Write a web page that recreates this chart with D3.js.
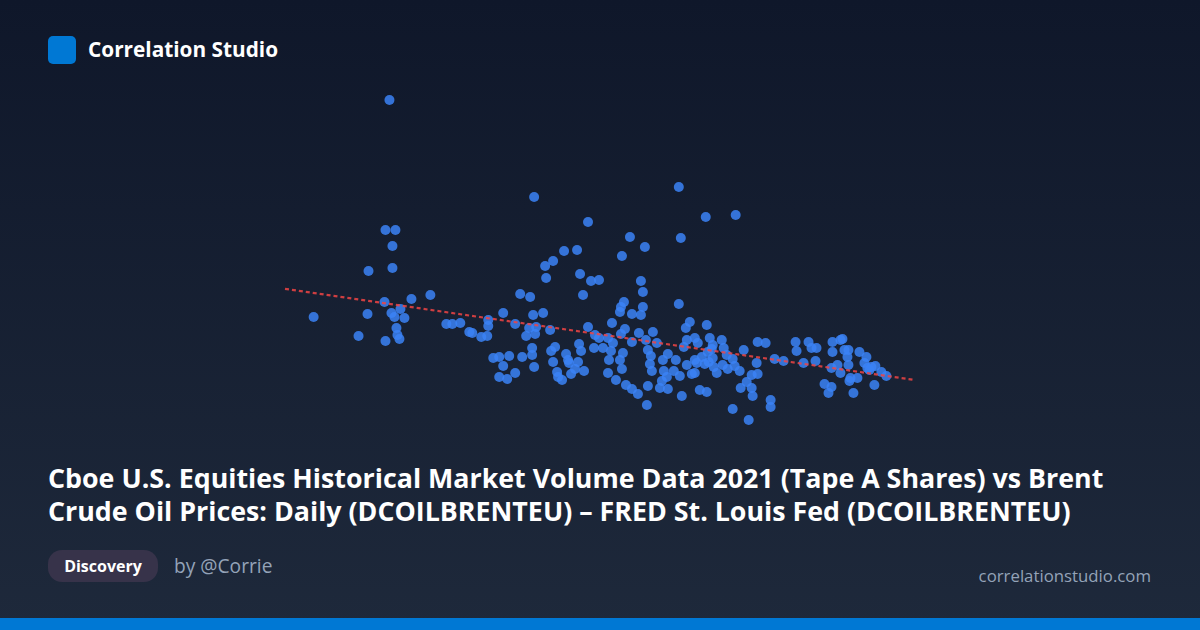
<!DOCTYPE html>
<html><head><meta charset="utf-8">
<script src="https://cdn.jsdelivr.net/npm/d3@7"></script>
<style>html,body{margin:0;padding:0;background:#0f172a;}svg{display:block;}</style>
</head><body>
<script>
// Daily Tape A volume (billions of shares) vs Brent crude (USD/bbl), 2021
const volume = [3.04,3.00,3.10,3.07,2.83,3.07,2.28,2.82,2.99,3.26,3.45,2.73,3.00,3.06,3.15,3.09,3.19,3.11,3.12,3.14,
3.61,3.67,3.75,3.84,3.87,3.96,4.02,4.03,4.03,4.08,4.14,4.24,4.18,4.14,4.22,4.30,4.18,4.35,4.45,4.61,
4.98,5.06,4.30,4.44,4.51,4.41,4.50,4.65,4.48,4.58,5.03,5.10,5.14,5.09,4.37,4.47,4.47,4.49,4.66,4.70,
4.68,4.81,4.83,4.84,4.94,4.96,4.93,4.72,4.73,4.77,4.86,4.90,4.99,4.49,5.94,6.21,6.51,5.03,5.96,5.45,
5.60,4.79,4.92,5.37,4.68,4.60,4.95,5.14,5.56,5.58,5.94,5.39,5.36,5.35,5.58,5.56,5.47,5.27,5.18,5.23,
5.28,5.26,5.38,5.35,5.24,5.23,5.31,5.37,5.40,5.36,5.47,5.54,5.68,5.61,5.72,5.63,5.66,5.65,5.67,5.78,
5.83,5.79,5.82,5.77,5.75,5.83,5.41,5.47,5.53,5.62,5.63,5.97,5.91,6.02,5.89,5.95,6.07,6.12,6.05,6.01,
6.02,5.99,6.10,6.13,6.22,6.25,6.37,6.28,6.10,6.17,6.23,6.27,6.20,6.28,6.29,6.32,6.10,6.24,6.39,6.42,
6.38,6.48,6.50,6.55,6.43,6.59,6.72,6.67,6.73,6.62,6.56,6.67,6.68,6.15,6.22,6.48,6.64,6.73,6.81,6.86,
6.86,6.90,6.99,7.11,7.12,7.19,7.24,7.27,7.32,7.31,7.40,7.44,7.47,7.48,7.56,7.58,7.48,7.47,7.53,7.56,
7.60,7.64,7.63,7.64,7.66,7.65,7.73,7.69,7.75,7.82,7.80,7.83,7.87,7.91,7.85,7.97,8.02,7.90];
const brent = [90.00,73.75,73.75,71.75,68.63,69.00,62.88,63.25,64.75,65.13,65.63,60.50,59.88,63.38,63.88,62.88,62.75,61.50,60.63,60.13,
62.00,62.00,62.13,61.00,60.88,60.38,60.50,62.50,61.75,57.75,57.88,58.00,56.75,55.38,55.13,55.88,63.38,65.75,65.38,67.75,
65.63,67.38,62.00,61.50,61.63,60.50,60.75,61.25,63.13,63.38,61.63,60.63,60.25,59.00,57.88,58.13,59.00,56.63,58.63,59.13,
57.25,58.25,57.50,57.13,59.50,58.63,57.25,56.00,55.38,55.00,55.75,56.38,56.13,77.88,79.13,75.38,75.63,74.75,72.75,72.88,
71.63,71.13,71.25,70.50,69.88,69.25,68.25,67.50,67.38,66.00,64.50,64.75,64.13,63.50,64.13,63.13,63.25,62.13,59.00,60.25,
59.63,58.63,58.38,57.50,57.50,55.88,55.00,56.38,61.38,60.75,59.75,60.88,61.00,60.00,59.63,58.75,58.00,57.00,56.13,57.50,
58.25,56.13,55.38,54.88,54.00,53.88,54.38,53.88,53.25,51.88,54.25,53.00,57.50,56.88,56.13,55.50,55.75,57.13,62.25,61.50,
60.00,59.13,60.25,59.63,61.88,60.25,60.00,59.38,57.50,57.88,58.50,58.88,57.00,57.75,56.63,55.88,55.88,57.25,59.00,58.13,
56.88,57.63,56.75,56.13,56.38,58.75,57.13,55.63,55.75,54.75,54.00,54.00,53.00,53.75,53.50,51.38,50.00,59.75,59.63,52.50,
51.63,57.63,57.38,59.75,58.63,57.13,59.75,59.00,59.00,57.38,54.50,53.38,54.13,59.75,60.00,60.13,58.50,56.50,56.88,55.88,
58.75,58.75,57.88,56.88,55.25,54.88,55.25,53.38,58.50,57.88,57.13,56.50,56.63,56.75,56.25,56.00,55.50,54.38];

const titleLines = ["Cboe U.S. Equities Historical Market Volume Data 2021 (Tape A Shares) vs Brent",
                    "Crude Oil Prices: Daily (DCOILBRENTEU) \u2013 FRED St. Louis Fed (DCOILBRENTEU)"];
const brand = "Correlation Studio";
const tag = "Discovery";
const author = "by @Corrie";
const site = "correlationstudio.com";

const W = 1200, H = 630;
const svg = d3.select("body").append("svg").attr("width", W).attr("height", H);
const defs = svg.append("defs");
const g = defs.append("linearGradient").attr("id","bg").attr("x1",0).attr("y1",0).attr("x2",0).attr("y2",1);
g.append("stop").attr("offset","0%").attr("stop-color","#0f172a");
g.append("stop").attr("offset","100%").attr("stop-color","#1e293b");
svg.append("rect").attr("width",W).attr("height",H).attr("fill","url(#bg)");

// header
svg.append("rect").attr("x",48).attr("y",36).attr("width",28).attr("height",28).attr("rx",5).attr("fill","#0078d4");
svg.append("text").attr("x",88).attr("y",57).attr("fill","#ffffff")
  .style("font-family","'Open Sans', sans-serif").style("font-weight",700).style("font-size","20.8px").text(brand);

// scatter
const data = volume.map((v,i)=>({x:v,y:brent[i]}));
const xExt = d3.extent(volume), yExt = d3.extent(brent);
const xPad = (xExt[1]-xExt[0])*0.05, yPad = (yExt[1]-yExt[0])*0.05;
const x = d3.scaleLinear().domain([xExt[0]-xPad, xExt[1]+xPad]).range([285, 915]);
const y = d3.scaleLinear().domain([yExt[0]-yPad, yExt[1]+yPad]).range([436, 84]);

const mx = d3.mean(volume), my = d3.mean(brent);
const slope = d3.sum(data, d=>(d.x-mx)*(d.y-my)) / d3.sum(data, d=>(d.x-mx)*(d.x-mx));
const icpt = my - slope*mx;
const xd = x.domain();

svg.append("g").selectAll("circle").data(data).join("circle")
  .attr("cx", d=>x(d.x)).attr("cy", d=>y(d.y)).attr("r", 5)
  .attr("fill", "#3b82f6").attr("fill-opacity", 0.85);

svg.append("line")
  .attr("x1", x(xd[0])).attr("y1", y(icpt+slope*xd[0]))
  .attr("x2", x(xd[1])).attr("y2", y(icpt+slope*xd[1]))
  .attr("stroke", "#ef4444").attr("stroke-opacity", 0.85).attr("stroke-width", 2.2)
  .attr("stroke-dasharray", "4,3");

// title
const t = svg.append("text").attr("fill","#ffffff")
  .style("font-family","'Open Sans', sans-serif").style("font-weight",700).style("font-size","26.8px");
titleLines.forEach((l,i)=>t.append("tspan").attr("x",48).attr("y",488+i*33).text(l));

// footer
svg.append("rect").attr("x",48).attr("y",550).attr("width",110).attr("height",32).attr("rx",14).attr("fill","#37334a");
svg.append("text").attr("x",103).attr("y",572).attr("text-anchor","middle").attr("fill","#ffffff")
  .style("font-family","'Open Sans', sans-serif").style("font-weight",700).style("font-size","16px").text(tag);
svg.append("text").attr("x",174).attr("y",573).attr("fill","#94a3b8")
  .style("font-family","'Open Sans', sans-serif").style("font-size","19.2px").text(author);
svg.append("text").attr("x",1151).attr("y",582).attr("text-anchor","end").attr("fill","#94a3b8")
  .style("font-family","'Open Sans', sans-serif").style("font-size","16.8px").text(site);
svg.append("rect").attr("x",0).attr("y",618).attr("width",W).attr("height",12).attr("fill","#0078d4");
</script>
</body></html>
